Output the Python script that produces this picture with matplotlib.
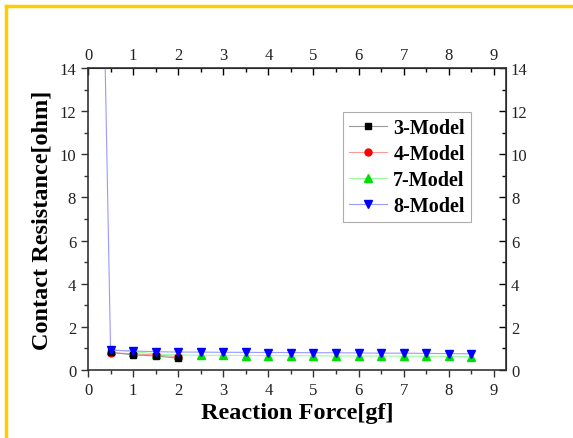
import matplotlib
matplotlib.use("Agg")
import matplotlib.pyplot as plt
from matplotlib.lines import Line2D

# data
x_short = [0.5, 1.0, 1.5, 2.0]
model3 = [0.82, 0.70, 0.65, 0.55]
model4 = [0.80, 0.75, 0.70, 0.62]

x_long = [0.5, 1.0, 1.5, 2.0, 2.5, 3.0, 3.5, 4.0, 4.5, 5.0, 5.5, 6.0, 6.5, 7.0, 7.5, 8.0, 8.5]
model7 = [0.95, 0.85, 0.75, 0.70, 0.68, 0.68, 0.67, 0.67, 0.66, 0.66, 0.65, 0.65, 0.65, 0.64, 0.64, 0.63, 0.62]
x_8 = [0.3] + x_long
model8 = [23.0, 0.92, 0.88, 0.85, 0.83, 0.83, 0.82, 0.82, 0.81, 0.81, 0.80, 0.80, 0.79, 0.78, 0.78, 0.77, 0.76, 0.75]

plt.rcParams['font.family'] = ['Liberation Serif', 'DejaVu Serif']

fig = plt.figure(figsize=(5.73, 4.39), dpi=100)
ax = fig.add_axes([0.1536, 0.1549, 0.7295, 0.6879])

ax.plot(x_8, model8, color='#9999ff', lw=0.8, marker='v', ms=6, mfc='#0000ff', mec='#0000ff', label='8-Model', zorder=2)
ax.plot(x_long, model7, color='#99ff99', lw=0.8, marker='^', ms=6, mfc='#00dd00', mec='#00dd00', label='7-Model', zorder=1)
ax.plot(x_short, model4, color='#ff9999', lw=0.8, marker='o', ms=5, mfc='#ff0000', mec='#ff0000', label='4-Model', zorder=1)
ax.plot(x_short, model3, color='#999999', lw=0.8, marker='s', ms=5, mfc='black', mec='black', label='3-Model', zorder=1)

ax.set_xlim(0, 9.27)
ax.set_ylim(0, 14)
ax.set_xticks(range(0, 10))
ax.set_xticks([i * 0.5 for i in range(19)], minor=True)
ax.set_yticks(range(0, 15, 2))
ax.set_yticks(range(0, 15), minor=True)
for s in ax.spines.values():
    s.set_linewidth(1.2)
    s.set_color('#333333')
ax.tick_params(which='both', direction='out', labelsize=12, width=1, color='#333333', labelcolor='#222222')
ax.tick_params(which='major', length=5)
ax.tick_params(which='minor', length=3)

top = ax.secondary_xaxis('top')
top.set_xticks(range(0, 10))
top.set_xticks([i * 0.5 for i in range(19)], minor=True)
top.tick_params(which='both', direction='in', labelsize=12, width=1, labelcolor='#222222')
top.tick_params(which='major', length=5)
top.tick_params(which='minor', length=3)

right = ax.secondary_yaxis('right')
right.set_yticks(range(0, 15, 2))
right.set_yticks(range(0, 15), minor=True)
right.tick_params(which='both', direction='in', labelsize=12, width=1, labelcolor='#222222')
right.tick_params(which='major', length=5)
right.tick_params(which='minor', length=3)

ax.set_xlabel('Reaction Force[gf]', fontsize=17.5, fontweight='bold', labelpad=3)
ax.set_ylabel('Contact Resistance[ohm]', fontsize=17.5, fontweight='bold', labelpad=5)

handles = [
    Line2D([], [], color='#999999', lw=0.8, marker='s', ms=5, mfc='black', mec='black'),
    Line2D([], [], color='#ff9999', lw=0.8, marker='o', ms=5, mfc='#ff0000', mec='#ff0000'),
    Line2D([], [], color='#99ff99', lw=0.8, marker='^', ms=6, mfc='#00dd00', mec='#00dd00'),
    Line2D([], [], color='#9999ff', lw=0.8, marker='v', ms=6, mfc='#0000ff', mec='#0000ff'),
]
leg = ax.legend(handles, ['3-Model', '4-Model', '7-Model', '8-Model'],
                loc='upper left', bbox_to_anchor=(0.61, 0.855), fancybox=False,
                edgecolor='#999999', prop={'weight': 'bold', 'size': 14.5},
                handlelength=1.9, handletextpad=0.3, labelspacing=0.3, borderpad=0.3,
                borderaxespad=0)
leg.get_frame().set_linewidth(0.8)

# yellow frame on left and top
fig.add_artist(Line2D([0.010, 0.010], [0.0, 0.984], color='#ffcc00', lw=2.5, transform=fig.transFigure))
fig.add_artist(Line2D([0.010, 1.0], [0.984, 0.984], color='#ffcc00', lw=2.5, transform=fig.transFigure))

fig.savefig('out.png', dpi=100)
